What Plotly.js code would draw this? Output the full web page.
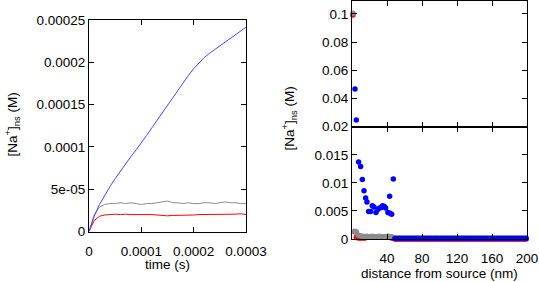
<!DOCTYPE html>
<html>
<head>
<meta charset="utf-8">
<script src="https://cdn.plot.ly/plotly-3.0.1.min.js"></script>
<style>
  html, body { margin: 0; padding: 0; background: #ffffff; }
  #chart { width: 539px; height: 282px; }
</style>
</head>
<body>
<div id="chart"></div>
<script>
// ---------- Left panel: concentration vs time ----------
const timeS = [0, 0.00001, 0.00002, 0.00003, 0.00004, 0.00005, 0.00006, 0.00007, 0.00008, 0.00009,
  0.0001, 0.00011, 0.00012, 0.00013, 0.00014, 0.00015, 0.00016, 0.00017, 0.00018, 0.00019,
  0.0002, 0.00021, 0.00022, 0.00023, 0.00024, 0.00025, 0.00026, 0.00027, 0.00028, 0.00029, 0.0003];
const naBlueT = [0, 1.8e-5, 3.2e-5, 4.3e-5, 5.3e-5, 6.25e-5, 7.15e-5, 8.0e-5, 8.85e-5, 9.65e-5,
  10.45e-5, 11.35e-5, 12.25e-5, 13.15e-5, 14.05e-5, 14.95e-5, 15.85e-5, 16.7e-5, 17.6e-5, 18.45e-5,
  19.25e-5, 19.95e-5, 20.55e-5, 21.05e-5, 21.5e-5, 21.95e-5, 22.45e-5, 22.9e-5, 23.35e-5, 23.75e-5, 24.15e-5];
const naGrayT = [0, 2.0e-5, 2.9e-5, 3.2e-5, 3.3e-5, 3.3e-5, 3.4e-5, 3.3e-5, 3.4e-5, 3.3e-5,
  3.2e-5, 3.3e-5, 3.3e-5, 3.4e-5, 3.5e-5, 3.6e-5, 3.4e-5, 3.4e-5, 3.3e-5, 3.4e-5,
  3.3e-5, 3.3e-5, 3.4e-5, 3.4e-5, 3.3e-5, 3.4e-5, 3.5e-5, 3.4e-5, 3.4e-5, 3.3e-5, 3.3e-5];
const naRedT = [0, 1.3e-5, 1.8e-5, 1.95e-5, 2.0e-5, 2.05e-5, 2.0e-5, 2.05e-5, 2.0e-5, 2.0e-5,
  2.0e-5, 2.05e-5, 2.0e-5, 1.95e-5, 1.9e-5, 1.85e-5, 1.9e-5, 1.9e-5, 1.95e-5, 1.9e-5,
  1.95e-5, 2.0e-5, 2.0e-5, 2.05e-5, 2.0e-5, 2.05e-5, 2.05e-5, 2.0e-5, 2.05e-5, 2.1e-5, 2.0e-5];
const timeTicks = [0, 0.0001, 0.0002, 0.0003];
const timeTickText = ["0", "0.0001", "0.0002", "0.0003"];
const concTicksT = [0, 0.00005, 0.0001, 0.00015, 0.0002, 0.00025];
const concTickTextT = ["0", "5e-05", "0.0001", "0.00015", "0.0002", "0.00025"];

// ---------- Right panel: concentration vs distance ----------
const distBlue = [3.4, 4.9, 7.5, 9.9, 11.8, 13.7, 15.6, 17.1, 19.0, 21.3, 23.2, 25.1, 27.4, 29.7,
  31.5, 33.5, 35.0, 36.9, 38.4, 41.1, 43.0, 43.4, 45.3, 47.2,
  49, 51, 53, 55, 57, 59, 61, 63, 65, 67, 69, 71, 73, 75, 77, 79, 81, 83, 85, 87, 89, 91, 93, 95, 97, 99,
  101, 103, 105, 107, 109, 111, 113, 115, 117, 119, 121, 123, 125, 127, 129, 131, 133, 135, 137, 139,
  141, 143, 145, 147, 149, 151, 153, 155, 157, 159, 161, 163, 165, 167, 169, 171, 173, 175, 177, 179,
  181, 183, 185, 187, 189, 191, 193, 195, 197, 199];
const concBlue = [0.0467, 0.0248, 0.0137, 0.0129, 0.0106, 0.0086, 0.0073, 0.0066, 0.0049, 0.0049,
  0.0059, 0.0057, 0.0047, 0.0053, 0.0055, 0.0056, 0.0059, 0.0058, 0.0055, 0.0047, 0.0076, 0.0046,
  0.0044, 0.0107,
  0.0001, 0.0001, 0.0001, 0.0001, 0.0001, 0.0001, 0.0001, 0.0001, 0.0001, 0.0001,
  0.0001, 0.0001, 0.0001, 0.0001, 0.0001, 0.0001, 0.0001, 0.0001, 0.0001, 0.0001,
  0.0001, 0.0001, 0.0001, 0.0001, 0.0001, 0.0001, 0.0001, 0.0001, 0.0001, 0.0001,
  0.0001, 0.0001, 0.0001, 0.0001, 0.0001, 0.0001, 0.0001, 0.0001, 0.0001, 0.0001,
  0.0001, 0.0001, 0.0001, 0.0001, 0.0001, 0.0001, 0.0001, 0.0001, 0.0001, 0.0001,
  0.0001, 0.0001, 0.0001, 0.0001, 0.0001, 0.0001, 0.0001, 0.0001, 0.0001, 0.0001,
  0.0001, 0.0001, 0.0001, 0.0001, 0.0001, 0.0001, 0.0001, 0.0001, 0.0001, 0.0001,
  0.0001, 0.0001, 0.0001, 0.0001, 0.0001, 0.0001];
const distGR = [1, 3, 5, 7, 9, 11, 13, 15, 17, 19, 21, 23, 25, 27, 29, 31, 33, 35, 37, 39, 41, 43, 45, 47,
  49, 51, 53, 55, 57, 59, 61, 63, 65, 67, 69, 71, 73, 75, 77, 79, 81, 83, 85, 87, 89, 91, 93, 95, 97, 99,
  101, 103, 105, 107, 109, 111, 113, 115, 117, 119, 121, 123, 125, 127, 129, 131, 133, 135, 137, 139,
  141, 143, 145, 147, 149, 151, 153, 155, 157, 159, 161, 163, 165, 167, 169, 171, 173, 175, 177, 179,
  181, 183, 185, 187, 189, 191, 193, 195, 197, 199];
const concGray = [0.1005, 0.0014, 0.0013, 0.0007, 0.0006, 0.0005, 0.0005, 0.0004, 0.0005, 0.0004,
  0.0004, 0.0005, 0.0004, 0.0004, 0.0004, 0.0005, 0.0004, 0.0004, 0.0004, 0.0004, 0.0005, 0.0004,
  0.0004, 0.0003,
  0.0002, 0.0002, 0.0002, 0.0002, 0.0002, 0.0002, 0.0002, 0.0002, 0.0002, 0.0002,
  0.0002, 0.0002, 0.0002, 0.0002, 0.0002, 0.0002, 0.0002, 0.0002, 0.0002, 0.0002,
  0.0002, 0.0002, 0.0002, 0.0002, 0.0002, 0.0002, 0.0002, 0.0002, 0.0002, 0.0002,
  0.0002, 0.0002, 0.0002, 0.0002, 0.0002, 0.0002, 0.0002, 0.0002, 0.0002, 0.0002,
  0.0002, 0.0002, 0.0002, 0.0002, 0.0002, 0.0002, 0.0002, 0.0002, 0.0002, 0.0002,
  0.0002, 0.0002, 0.0002, 0.0002, 0.0002, 0.0002, 0.0002, 0.0002, 0.0002, 0.0002,
  0.0002, 0.0002, 0.0002, 0.0002, 0.0002, 0.0002, 0.0002, 0.0002, 0.0002, 0.0002,
  0.0002, 0.0002, 0.0002, 0.0002, 0.0002, 0.0002];
const concRed = [0.0992, 0.0013, 0.0003, 0.0002, 0.0002, 0.0002, 0.0002, 0.0002, 0.0003, 0.0003,
  0.0003, 0.0003, 0.0003, 0.0003, 0.0003, 0.0003, 0.0003, 0.0003, 0.0003, 0.0003, 0.0003, 0.0003,
  0.0002, 0.0002,
  0, 0, 0, 0, 0, 0, 0, 0, 0, 0, 0, 0, 0, 0, 0, 0, 0, 0, 0, 0, 0, 0, 0, 0, 0, 0, 0, 0, 0, 0,
  0, 0, 0, 0, 0, 0, 0, 0, 0, 0, 0, 0, 0, 0, 0, 0, 0, 0, 0, 0, 0, 0, 0, 0, 0, 0, 0, 0, 0, 0,
  0, 0, 0, 0, 0, 0, 0, 0, 0, 0, 0, 0, 0, 0, 0, 0];
const distTicks = [40, 80, 120, 160, 200];
const distTickText = ["40", "80", "120", "160", "200"];
const concTicksLow = [0, 0.005, 0.01, 0.015];
const concTickTextLow = ["0", "0.005", "0.01", "0.015"];
const concTicksHigh = [0.02, 0.04, 0.06, 0.08, 0.1];
const concTickTextHigh = ["0.02", "0.04", "0.06", "0.08", "0.1"];

const COLORS = { blueLine: "rgb(70,70,255)", gray: "rgb(140,140,140)", red: "rgb(255,0,0)", blueDot: "rgb(0,0,255)" };
const FONT = "Liberation Sans, Arial, Helvetica, sans-serif";

function pick(xs, ys, lo, hi) {
  const ox = [], oy = [];
  for (let i = 0; i < xs.length; i++) {
    if (ys[i] >= lo && ys[i] <= hi) { ox.push(xs[i]); oy.push(ys[i]); }
  }
  return { x: ox, y: oy };
}

const traces = [
  { x: timeS, y: naRedT, type: "scatter", mode: "lines", line: { color: COLORS.red, width: 1 }, xaxis: "x", yaxis: "y" },
  { x: timeS, y: naGrayT, type: "scatter", mode: "lines", line: { color: COLORS.gray, width: 1 }, xaxis: "x", yaxis: "y" },
  { x: timeS, y: naBlueT, type: "scatter", mode: "lines", line: { color: COLORS.blueLine, width: 1 }, xaxis: "x", yaxis: "y" }
];
const series = [
  { xs: distGR, ys: concRed, color: COLORS.red },
  { xs: distGR, ys: concGray, color: COLORS.gray },
  { xs: distBlue, ys: concBlue, color: COLORS.blueDot }
];
series.forEach(s => {
  const lo = pick(s.xs, s.ys, -1, 0.02);
  traces.push({ x: lo.x, y: lo.y, type: "scatter", mode: "markers", cliponaxis: false,
    marker: { color: s.color, size: 5.5, line: { width: 0 } }, xaxis: "x2", yaxis: "y2" });
  const hi = pick(s.xs, s.ys, 0.02, 1);
  traces.push({ x: hi.x, y: hi.y, type: "scatter", mode: "markers", cliponaxis: false,
    marker: { color: s.color, size: 5.5, line: { width: 0 } }, xaxis: "x3", yaxis: "y3" });
});

const axisBase = {
  showgrid: false, zeroline: false, showline: true, linecolor: "#000", linewidth: 1,
  ticks: "inside", ticklen: 5, tickcolor: "#000", tickwidth: 1, mirror: "ticks",
  tickfont: { family: FONT, size: 13.5, color: "#000" }, tickmode: "array", fixedrange: true
};

const layout = {
  width: 539, height: 282,
  margin: { l: 0, r: 0, t: 0, b: 0 },
  paper_bgcolor: "#fff", plot_bgcolor: "#fff",
  showlegend: false,
  font: { family: FONT, size: 13.5, color: "#000" },
  xaxis: Object.assign({}, axisBase, { domain: [89 / 539, 246 / 539], range: [0, 0.0003], anchor: "y",
    tickvals: timeTicks, ticktext: timeTickText, ticklabelstandoff: 7 }),
  yaxis: Object.assign({}, axisBase, { domain: [1 - 231.5 / 282, 1 - 20 / 282], range: [0, 0.00025], anchor: "x",
    tickvals: concTicksT, ticktext: concTickTextT }),
  xaxis2: Object.assign({}, axisBase, { domain: [352 / 539, 527 / 539], range: [0, 200], anchor: "y2",
    tickvals: distTicks, ticktext: distTickText, ticklabelstandoff: 7 }),
  yaxis2: Object.assign({}, axisBase, { domain: [1 - 239 / 282, 1 - 126.7 / 282], range: [0, 0.02], anchor: "x2",
    tickvals: concTicksLow, ticktext: concTickTextLow }),
  xaxis3: Object.assign({}, axisBase, { domain: [352 / 539, 527 / 539], range: [0, 200], anchor: "y3",
    tickvals: distTicks, showticklabels: false }),
  yaxis3: Object.assign({}, axisBase, { domain: [1 - 126.7 / 282, 1 - 1 / 282], range: [0.02, 0.1092], anchor: "x3",
    tickvals: concTicksHigh, ticktext: concTickTextHigh }),
  annotations: [
    { text: "[Na<sup>+</sup>]<sub>ns</sub> (M)", xref: "paper", yref: "paper", x: 12.5 / 539, y: 1 - 125 / 282,
      textangle: -90, showarrow: false, xanchor: "center", yanchor: "middle", font: { family: FONT, size: 13.5, color: "#000" } },
    { text: "[Na<sup>+</sup>]<sub>ns</sub> (M)", xref: "paper", yref: "paper", x: 289 / 539, y: 1 - 118.5 / 282,
      textangle: -90, showarrow: false, xanchor: "center", yanchor: "middle", font: { family: FONT, size: 13.5, color: "#000" } },
    { text: "time (s)", xref: "paper", yref: "paper", x: 167 / 539, y: 1 - 264 / 282,
      showarrow: false, xanchor: "center", yanchor: "middle", font: { family: FONT, size: 13.5, color: "#000" } },
    { text: "distance from source (nm)", xref: "paper", yref: "paper", x: 439 / 539, y: 1 - 273 / 282,
      showarrow: false, xanchor: "center", yanchor: "middle", font: { family: FONT, size: 13.5, color: "#000" } }
  ]
};

Plotly.newPlot("chart", traces, layout, { staticPlot: true, displayModeBar: false });
</script>
</body>
</html>
